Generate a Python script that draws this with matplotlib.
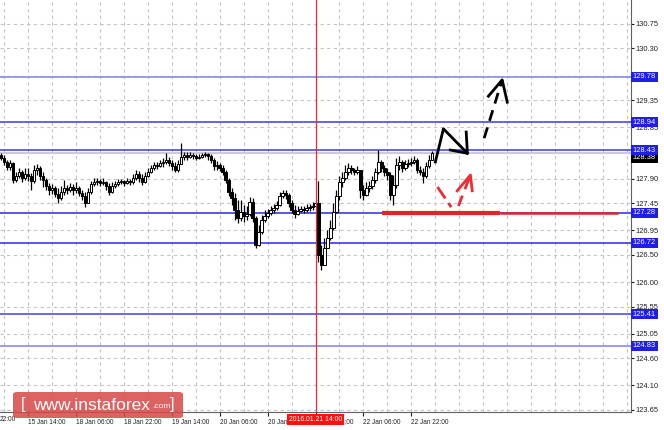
import numpy as np
import matplotlib.pyplot as plt
from matplotlib.patches import FancyBboxPatch

plt.rcParams['font.family'] = ['Liberation Sans', 'DejaVu Sans']

# hourly bars, x = bar index (3 px per bar), open = previous close
close = [128.28, 128.21, 128.12, 128.19, 127.88, 127.95, 128.03, 127.92, 127.99, 127.95,
         127.86, 128.06, 128.10, 127.95, 127.88, 127.77, 127.69, 127.73, 127.62, 127.55,
         127.66, 127.73, 127.69, 127.75, 127.69, 127.73, 127.64, 127.59, 127.46, 127.66,
         127.80, 127.84, 127.86, 127.82, 127.84, 127.77, 127.66, 127.77, 127.80, 127.84,
         127.86, 127.82, 127.86, 127.84, 127.92, 127.99, 127.92, 127.84, 127.95, 128.03,
         128.10, 128.15, 128.14, 128.19, 128.21, 128.25, 128.19, 128.14, 128.06, 128.17,
         128.30, 128.34, 128.30, 128.34, 128.32, 128.28, 128.30, 128.34, 128.36, 128.32,
         128.25, 128.14, 128.15, 128.10, 128.03, 127.88, 127.66, 127.55, 127.33, 127.18,
         127.29, 127.22, 127.25, 127.47, 127.18, 126.68, 126.92, 127.14, 127.22, 127.27,
         127.33, 127.36, 127.42, 127.59, 127.64, 127.60, 127.46, 127.33, 127.25, 127.31,
         127.35, 127.33, 127.36, 127.38, 127.40, 127.46, 126.50, 126.31, 126.63, 126.81,
         127.00, 127.29, 127.59, 127.84, 127.92, 128.03, 128.10, 128.06, 128.03, 128.06,
         127.69, 127.60, 127.73, 127.77, 127.88, 128.03, 128.21, 128.10, 128.03, 127.97,
         127.60, 127.79, 128.15, 128.21, 128.10, 128.17, 128.19, 128.21, 128.25, 128.06,
         128.03, 127.95, 128.14, 128.25, 128.38]
high = [128.37, 128.34, 128.25, 128.25, 128.21, 128.03, 128.10, 128.06, 128.10, 128.10,
        128.01, 128.15, 128.17, 128.14, 128.03, 127.92, 127.82, 127.80, 127.77, 127.73,
        127.77, 127.88, 127.79, 127.82, 127.80, 127.84, 127.77, 127.69, 127.66, 127.73,
        127.86, 127.92, 127.92, 127.90, 127.92, 127.86, 127.82, 127.84, 127.86, 127.90,
        127.90, 127.88, 127.92, 127.90, 127.99, 128.06, 128.04, 127.99, 128.03, 128.10,
        128.15, 128.21, 128.21, 128.25, 128.28, 128.37, 128.30, 128.25, 128.21, 128.25,
        128.56, 128.39, 128.39, 128.39, 128.37, 128.36, 128.36, 128.37, 128.39, 128.37,
        128.36, 128.28, 128.23, 128.19, 128.15, 128.06, 127.92, 127.73, 127.64, 127.51,
        127.51, 127.42, 127.40, 127.57, 127.55, 127.22, 127.05, 127.23, 127.33, 127.35,
        127.40, 127.44, 127.49, 127.66, 127.69, 127.69, 127.64, 127.51, 127.42, 127.40,
        127.40, 127.40, 127.44, 127.44, 127.47, 127.51, 127.86, 126.68, 126.81, 126.96,
        127.14, 127.46, 127.69, 127.95, 128.03, 128.15, 128.19, 128.15, 128.10, 128.14,
        128.06, 127.79, 127.84, 127.86, 127.95, 128.10, 128.43, 128.25, 128.15, 128.10,
        128.03, 127.97, 128.28, 128.32, 128.25, 128.25, 128.26, 128.28, 128.32, 128.28,
        128.14, 128.10, 128.21, 128.34, 128.41]
low = [128.25, 128.15, 128.06, 128.06, 127.82, 127.84, 127.92, 127.84, 127.88, 127.86,
       127.69, 127.82, 127.97, 127.88, 127.75, 127.69, 127.60, 127.62, 127.57, 127.46,
       127.51, 127.60, 127.62, 127.66, 127.60, 127.64, 127.59, 127.51, 127.38, 127.47,
       127.62, 127.77, 127.79, 127.77, 127.79, 127.69, 127.60, 127.64, 127.73, 127.77,
       127.80, 127.77, 127.80, 127.79, 127.80, 127.88, 127.84, 127.79, 127.82, 127.93,
       128.01, 128.06, 128.08, 128.12, 128.12, 128.17, 128.14, 128.06, 128.03, 128.03,
       128.17, 128.25, 128.25, 128.28, 128.26, 128.25, 128.26, 128.28, 128.30, 128.25,
       128.19, 128.06, 128.06, 128.04, 127.97, 127.82, 127.59, 127.42, 127.14, 127.09,
       127.12, 127.11, 127.14, 127.22, 127.11, 126.63, 126.66, 126.89, 127.11, 127.18,
       127.23, 127.27, 127.33, 127.40, 127.55, 127.53, 127.38, 127.27, 127.18, 127.23,
       127.29, 127.27, 127.29, 127.31, 127.33, 127.36, 126.37, 126.22, 126.37, 126.68,
       126.78, 126.96, 127.27, 127.51, 127.75, 127.88, 127.97, 127.99, 127.97, 127.99,
       127.55, 127.51, 127.59, 127.66, 127.71, 127.82, 127.99, 128.03, 127.95, 127.88,
       127.51, 127.42, 127.73, 128.06, 128.03, 128.06, 128.12, 128.14, 128.17, 128.01,
       127.97, 127.82, 127.92, 128.10, 128.25]
first_open = 128.34

levels = [129.78, 128.94, 128.43, 127.28, 126.72, 125.41, 124.83]
level_colors = ['#8a8af4', '#4848f0', '#4848f0', '#3a3ae8', '#3a3ae8', '#5050f0', '#8a8af4']
last_price = 128.38

yticks = [123.65, 124.10, 124.60, 125.05, 125.55, 126.00, 126.50, 126.95,
          127.45, 127.90, 128.40, 128.85, 129.35, 129.80, 130.30, 130.75]
ytick_labels = ['123.65', '124.10', '124.60', '125.05', '125.55', '126.00', '126.50', '126.95',
                '127.45', '127.90', '', '128.85', '129.35', '', '130.30', '130.75']

xtick_pos = [9, 25, 41, 57, 73, 89, 105, 121, 137]
xtick_labels = ['15 Jan 14:00', '18 Jan 06:00', '18 Jan 22:00', '19 Jan 14:00', '20 Jan 06:00',
                '20 Jan 22:00', '21 Jan 14:00', '22 Jan 06:00', '22 Jan 22:00']
cursor_bar = 105
cursor_label = '2016.01.21 14:00'

# forecast sketch (bar, price)
black_x = [145.0, 147.7, 155.7]
black_y = [128.21, 128.82, 128.37]
black_head_x = [150.0, 155.7, 155.3]
black_head_y = [128.43, 128.37, 128.76]
dash_x = [161.3, 167.3]
dash_y = [128.65, 129.72]
dash_head_x = [162.7, 167.3, 169.0]
dash_head_y = [129.42, 129.72, 129.31]
red1_x = [145.7, 150.3]
red1_y = [127.75, 127.38]
red2_x = [152.7, 156.7]
red2_y = [127.40, 127.97]
red_head_x = [152.3, 156.7, 157.3]
red_head_y = [127.68, 127.97, 127.68]
support = 127.28
support_thick = [127.3, 166.7]
support_thin = [166.7, 206.0]

FS = 5.4
FX = 4.7

fig = plt.figure(figsize=(6.64, 4.30), dpi=100)
ax = fig.add_axes([0.0, 18 / 430, 631 / 664, 412 / 430])
ax.set_xlim(-0.3, 210.3)
ax.set_ylim(123.61, 131.19)

# grid
for gx in np.arange(1, 211, 8):
    ax.axvline(gx, color='#c4c4c4', lw=0.8, ls=(0, (3, 3)), zorder=0)
for gy in yticks:
    ax.axhline(gy, color='#c4c4c4', lw=0.8, ls=(0, (3, 3)), zorder=0)

# candles
xs = np.arange(len(close))
opens = np.array([first_open] + close[:-1])
close_a = np.array(close)
hi = np.maximum(np.array(high), np.maximum(opens, close_a))
lo = np.minimum(np.array(low), np.minimum(opens, close_a))
ax.vlines(xs, lo, hi, color='black', lw=0.9, zorder=3)
up = close_a >= opens
body_lo = np.minimum(opens, close_a)
body_h = np.maximum(np.abs(close_a - opens), 0.012)
ax.bar(xs[up], body_h[up], bottom=body_lo[up], width=0.75, color='white',
       edgecolor='black', linewidth=0.7, zorder=4)
ax.bar(xs[~up], body_h[~up], bottom=body_lo[~up], width=0.75, color='black',
       edgecolor='black', linewidth=0.7, zorder=4)

# levels
ax.axhline(last_price, color='#cccccc', lw=1.5, zorder=1)
for lv, col in zip(levels, level_colors):
    ax.axhline(lv, color=col, lw=1.2, zorder=2)
ax.axvline(cursor_bar, color='#e03030', lw=0.9, zorder=5)

# sketch
ax.plot(support_thick, [support, support], color='#e8202a', lw=3, solid_capstyle='butt', zorder=6)
ax.plot(support_thin, [support, support], color='#e8202a', lw=1.8, solid_capstyle='butt', zorder=6)
ax.plot(black_x, black_y, color='black', lw=2, zorder=6)
ax.plot(black_head_x, black_head_y, color='black', lw=2, zorder=6)
ax.plot(dash_x, dash_y, color='black', lw=2, ls=(0, (4, 2.5)), zorder=6)
ax.plot(dash_head_x, dash_head_y, color='black', lw=2, zorder=6)
ax.plot(red1_x, red1_y, color='#ee2a35', lw=2, ls=(0, (5, 2)), zorder=6)
ax.plot(red2_x, red2_y, color='#ee2a35', lw=2, ls=(0, (4, 2.5)), zorder=6)
ax.plot(red_head_x, red_head_y, color='#ee2a35', lw=2, zorder=6)

# axes styling
for s in ['left', 'top']:
    ax.spines[s].set_visible(False)
ax.spines['right'].set_color('#606060')
ax.spines['bottom'].set_color('#606060')
ax.yaxis.tick_right()
ax.set_yticks(yticks)
ax.set_yticklabels(ytick_labels)
ax.tick_params(axis='y', length=2, width=0.8, pad=1.5, labelsize=FS, colors='#202020')
ax.set_xticks(xtick_pos)
ax.set_xticklabels(xtick_labels)
ax.tick_params(axis='x', length=3, width=0.8, pad=2, labelsize=FX, colors='#202020')
for lab in ax.get_xticklabels():
    lab.set_horizontalalignment('left')
ax.text(0.0, -0.01, '22:00', transform=ax.transAxes, ha='left', va='top',
        fontsize=FX, color='#202020')

yt = ax.get_yaxis_transform()
ax.text(1.003, last_price - 0.09, '%.2f' % last_price, transform=yt, ha='left', va='center',
        fontsize=FS, color='white', bbox=dict(boxstyle='square,pad=0.2', fc='black', ec='none'),
        zorder=9, clip_on=False)
for lv in levels:
    ax.text(1.003, lv, '%.2f' % lv, transform=yt, ha='left', va='center', fontsize=FS,
            color='white', bbox=dict(boxstyle='square,pad=0.2', fc='#1f1fe8', ec='none'),
            zorder=10, clip_on=False)

xt = ax.get_xaxis_transform()
ax.text(cursor_bar, -0.01, cursor_label, transform=xt, ha='center', va='top', fontsize=4.9,
        color='white', bbox=dict(boxstyle='square,pad=0.3', fc='#ff1010', ec='none'),
        zorder=10, clip_on=False)

# watermark
wm = FancyBboxPatch((13 / 664, 12 / 430), 170 / 664, 26 / 430, boxstyle='round,pad=0,rounding_size=0.006',
                    transform=fig.transFigure, fc='#d84848', ec='none', alpha=0.85, zorder=20)
fig.patches.append(wm)
fig.text(21 / 664, 25 / 430, '[', fontsize=12, color='white', va='center', ha='left', zorder=21)
fig.text(33 / 664, 25 / 430, 'www.instaforex', fontsize=12.5, color='white', va='center', ha='left', zorder=21)
fig.text(152 / 664, 24 / 430, '.com', fontsize=6, color='white', va='center', ha='left', zorder=21)
fig.text(170 / 664, 25 / 430, ']', fontsize=12, color='white', va='center', ha='left', zorder=21)

fig.savefig('out.png', dpi=100)
